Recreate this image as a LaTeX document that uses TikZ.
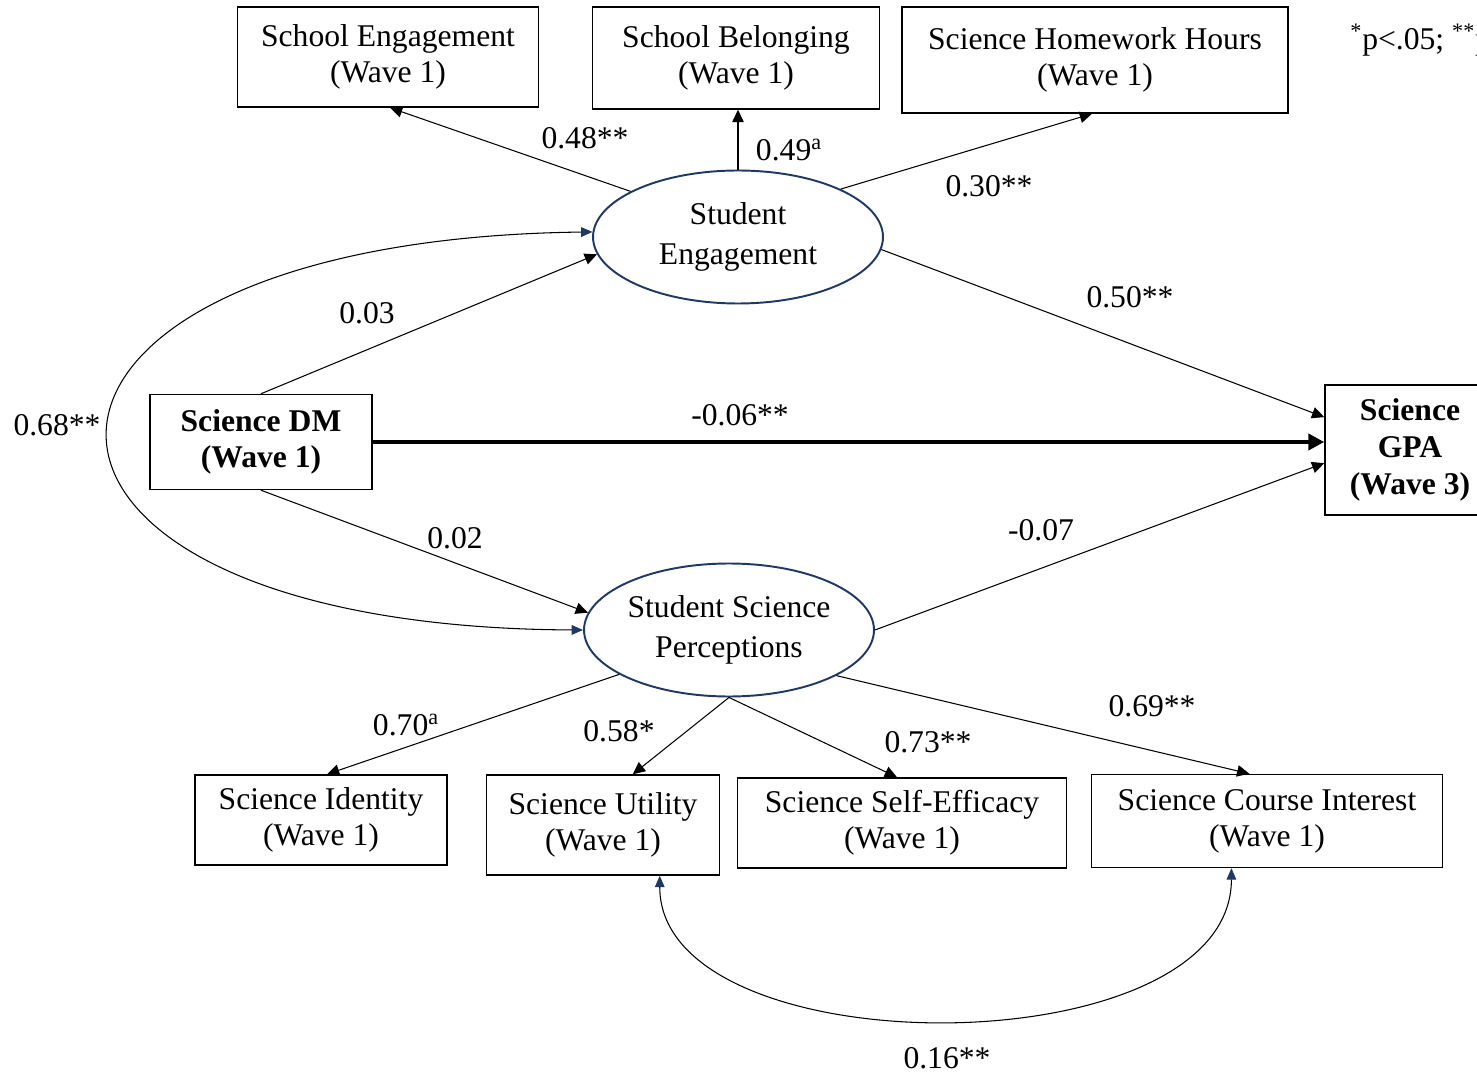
\documentclass[tikz,border=0pt]{standalone}
\usepackage{fontspec}
\setmainfont{Liberation Serif}
\usetikzlibrary{arrows.meta,shapes.geometric,calc}
\definecolor{navy}{HTML}{1F3864}
\begin{document}
\begin{tikzpicture}[x=0.02cm,y=-0.02cm,
  font=\fontsize{18}{20.5}\selectfont,
  box/.style={draw, line width=0.85pt, align=center, inner sep=0pt},
  latent/.style={ellipse, draw=navy, line width=1.1pt, align=center, inner sep=0pt,
    minimum width=5.8cm, minimum height=2.66cm, font=\fontsize{18}{22.5}\selectfont},
  pth/.style={line width=0.6pt, -{Triangle[length=7pt,width=6.5pt]}},
  thickpth/.style={line width=2.8pt, -{Triangle[length=9pt,width=9pt]}},
  cov/.style={line width=0.6pt,
    {Triangle[length=6.5pt,width=5.5pt,color=navy]}-{Triangle[length=6.5pt,width=5.5pt,color=navy]}},
  lab/.style={inner sep=0pt}]
\clip (0,0) rectangle (1477,1077);
\fill[white] (0,0) rectangle (1477,1077);

% top indicators
\node[box, minimum width=6.02cm, minimum height=2.0cm] (schEng) at (388,57) {School Engagement\\(Wave 1)};
\node[box, minimum width=5.74cm, minimum height=2.04cm] (schBel) at (736,58) {School Belonging\\(Wave 1)};
\node[box, minimum width=7.72cm, minimum height=2.12cm] (hw) at (1095,60) {Science Homework Hours\\(Wave 1)};
\node[lab, anchor=west] (pnote) at (1350,40) {\textsuperscript{*}p<.05; \textsuperscript{**}p<.01};

% latent variables
\node[latent] (se) at (738,237) {Student\\Engagement};
\node[latent] (ssp) at (729,630) {Student Science\\Perceptions};

% exogenous and outcome
\node[box, minimum width=4.44cm, minimum height=1.9cm, font=\fontsize{18}{20.5}\selectfont\bfseries] (dm) at (261,442) {Science DM\\(Wave 1)};
\node[box, minimum width=3.4cm, minimum height=2.6cm, font=\fontsize{18}{21}\selectfont\bfseries] (gpa) at (1410,450) {Science\\GPA\\(Wave 3)};

% bottom indicators
\node[box, minimum width=5.04cm, minimum height=1.8cm] (ident) at (321,820) {Science Identity\\(Wave 1)};
\node[box, minimum width=4.66cm, minimum height=2.0cm] (util) at (603,825) {Science Utility\\(Wave 1)};
\node[box, minimum width=6.58cm, minimum height=1.8cm] (selfeff) at (902,823) {Science Self-Efficacy\\(Wave 1)};
\node[box, minimum width=7.02cm, minimum height=1.86cm] (interest) at (1267,821) {Science Course Interest\\(Wave 1)};

% measurement paths (engagement)
\draw[pth] (se.157) -- ($(schEng.south)+(2,0)$);
\draw[pth] (se.north) -- (se.north |- schBel.south);
\draw[pth] (se.25) -- ($(hw.south)+(-3,0)$);

% structural paths
\draw[pth] (se.-5) -- ($(gpa.north west)!0.25!(gpa.south west)$);
\draw[pth] (dm.north) -- (se.187);
\draw[thickpth] (dm.east) -- (dm.east -| gpa.west);
\draw[pth] (dm.south) -- (ssp.173);
\draw[pth] (ssp.east) -- ($(gpa.north west)!0.6!(gpa.south west)$);

% covariance between latents
\draw[cov] (se.178) .. controls +(-640,8) and +(-637,-3) .. (ssp.west);

% measurement paths (perceptions)
\draw[pth] (ssp.202) -- ($(ident.north)+(6,0)$);
\draw[pth] (ssp.south) -- ($(util.north west)!0.627!(util.north east)$);
\draw[pth] (ssp.south) -- ($(selfeff.north)+(-5,0)$);
\draw[pth] (ssp.337) -- ($(interest.north west)!0.45!(interest.north east)$);

% residual covariance
\draw[cov] ($(util.south west)!0.742!(util.south east)$) .. controls +(0,194) and +(0,201) .. ($(interest.south west)!0.399!(interest.south east)$);

% labels
\node[lab] (l48) at (585,138) {0.48**};
\node[lab] (l49) at (789,150) {0.49\textsuperscript{a}};
\node[lab] (l30) at (989,186) {0.30**};
\node[lab] (l50) at (1130,297) {0.50**};
\node[lab] (l03) at (367,313) {0.03};
\node[lab] (l06) at (740,415) {-0.06**};
\node[lab] (l68) at (57,425) {0.68**};
\node[lab] (l02) at (455,538) {0.02};
\node[lab] (l07) at (1041,530) {-0.07};
\node[lab] (l70) at (406,725) {0.70\textsuperscript{a}};
\node[lab] (l58) at (619,731) {0.58*};
\node[lab] (l73) at (928,742) {0.73**};
\node[lab] (l69) at (1152,706) {0.69**};
\node[lab] (l16) at (947,1058) {0.16**};
\end{tikzpicture}
\end{document}
